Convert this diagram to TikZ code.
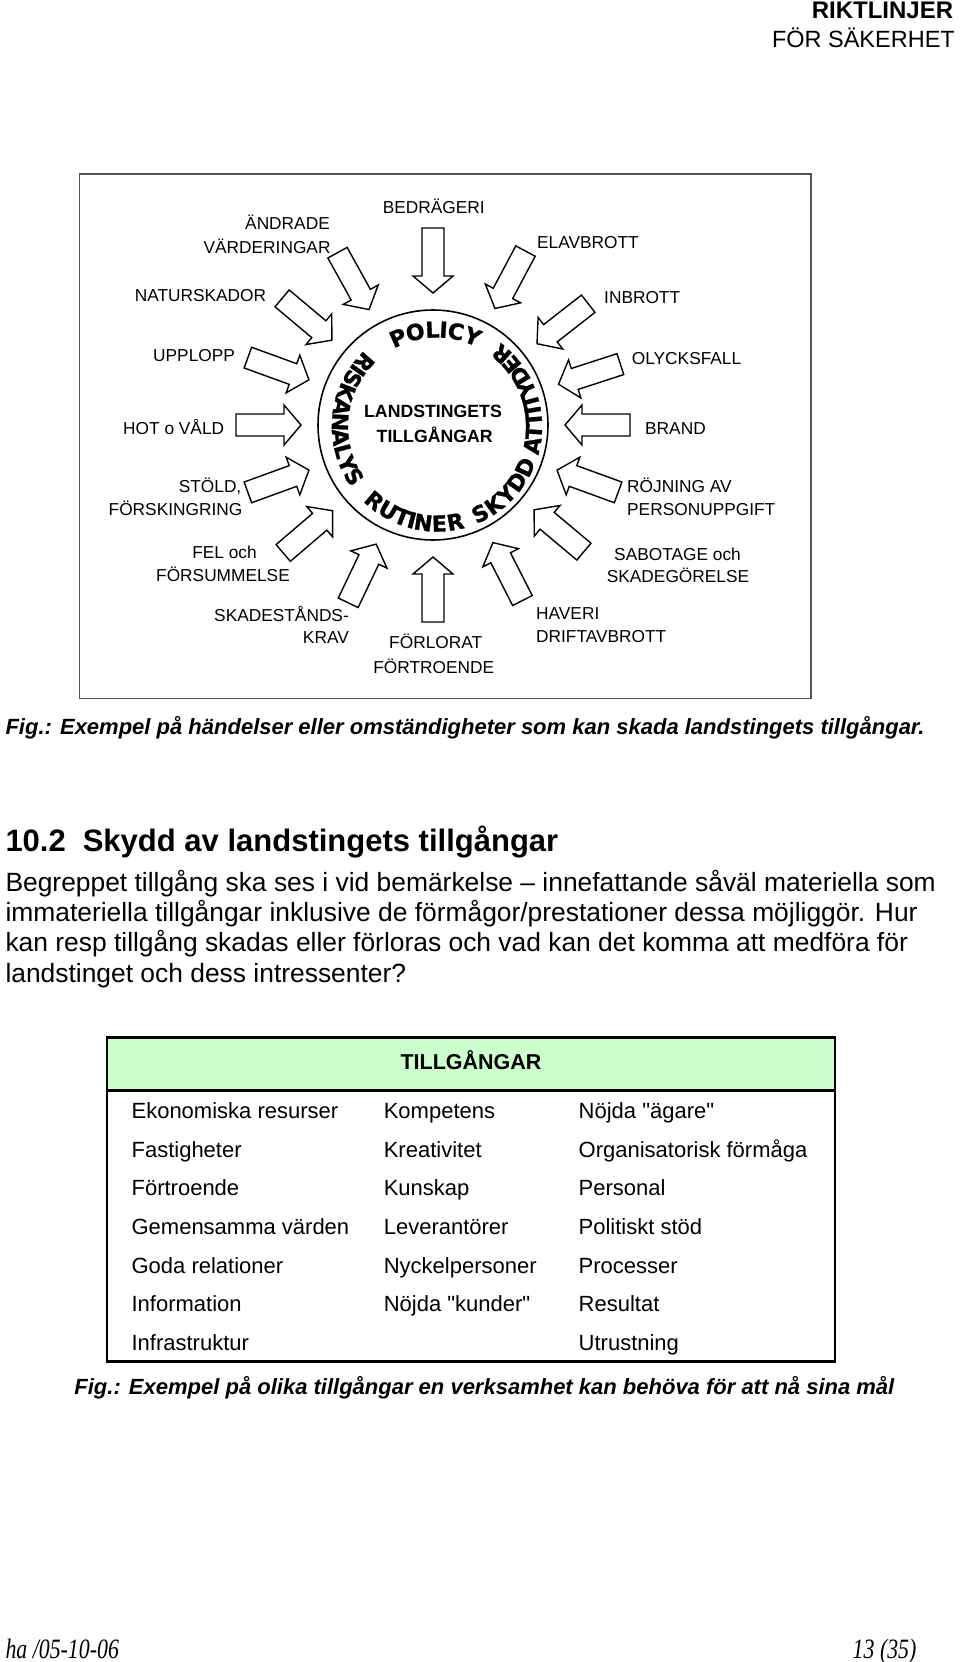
\documentclass[tikz,border=0pt]{standalone}
\usepackage{fontspec}
\usepackage{graphicx}
\setmainfont{Liberation Sans}
\newfontfamily\arcfont{DejaVu Sans}[BoldFeatures={FakeBold=1.2}]
\newfontfamily\seriffont{Liberation Serif}
\newcommand\strq{\XeTeXglyph\XeTeXcharglyph"22\relax}
\usetikzlibrary{calc}
\definecolor{hdrgreen}{HTML}{CCFFCC}
\definecolor{framegray}{HTML}{555555}
\tikzset{
  lbl/.style={font=\fontsize{17.3}{20}\selectfont, inner sep=0pt},
  ctr/.style={font=\bfseries\fontsize{17.7}{20}\selectfont, inner sep=0pt, anchor=base},
  arcletter/.style={font=\arcfont\bfseries\fontsize{22}{22}\selectfont, inner sep=0pt, anchor=center},
  blockarrow/.style={draw=black, fill=white, line width=1.4pt, line join=miter},
  bodytxt/.style={font=\fontsize{26.4}{30}\selectfont, inner sep=0pt, anchor=base west},
  captxt/.style={font=\bfseries\itshape\fontsize{22}{24}\selectfont, inner sep=0pt, anchor=base west},
  cell/.style={font=\fontsize{22}{24}\selectfont, inner sep=0pt, anchor=base west}
}
\begin{document}
\begin{tikzpicture}[x=1pt,y=1pt]
\useasboundingbox (0,0) rectangle (960,-1662);
\fill[white] (0,0) rectangle (960,-1662);

% header
\node[anchor=base east, font=\bfseries\fontsize{24}{24}\selectfont, inner sep=0pt] (h1) at (953.3,-18.3) {RIKTLINJER};
\node[anchor=base east, font=\fontsize{23.5}{24}\selectfont, inner sep=0pt] (h2) at (955,-47.3) {FÖR SÄKERHET};

% diagram frame
\draw[framegray, line width=1.5pt] (79.5,-174) rectangle (811,-698.5);

% circle
\coordinate (cc) at (433,-425);
\coordinate (tc) at (437,-426.5);
\node[circle, draw, line width=1.6pt, minimum size=230pt, inner sep=0pt] (ring) at (cc) {};

% block arrows pointing at the circle
\foreach \a in {90,62,38,18,0,-20,-40,-63,-90,-115.5,-139.5,-160,180,160,140,119} {
  \begin{scope}[shift={(cc)}, rotate=\a]
    \draw[blockarrow] (132,0) -- (149,20) -- (149,11) -- (197,11) -- (197,-11) -- (149,-11) -- (149,-20) -- cycle;
  \end{scope}
}

% centre text
\node[ctr] (land1) at (433,-417.8) {LANDSTINGETS};
\node[ctr] (land2) at (434.7,-442) {TILLGÅNGAR};

% arc words
\foreach \ch/\ang [count=\i] in {P/113.7,O/103.0,L/92.7,I/86.1,C/78.7,Y/68.4} {
  \pgfmathsetmacro\rot{\ang-90}
  \node[arcletter, rotate=\rot] (pol\i) at ($(tc)+(\ang:97)$) {\ch};
}
\foreach \ch/\ang [count=\i] in {R/138.4,I/144.66,S/150.57,K/159.27,A/168.31,N/177.35,A/186.39,L/194.74,Y/202.74,S/211.09} {
  \pgfmathsetmacro\rot{\ang+90}
  \node[arcletter, rotate=\rot] (ris\i) at ($(tc)+(\ang:97)$) {\ch};
}
\foreach \ch/\ang [count=\i] in {R/229.9,U/239.8,T/248.94,I/255.02,N/261.87,E/271.39,R/280.9} {
  \pgfmathsetmacro\rot{\ang+90}
  \node[arcletter, rotate=\rot] (rut\i) at ($(tc)+(\ang:97)$) {\ch};
}
\foreach \ch/\ang [count=\i] in {S/296.4,K/306.01,Y/315.61,D/325.22,D/335.2} {
  \pgfmathsetmacro\rot{\ang+90}
  \node[arcletter, rotate=\rot] (sky\i) at ($(tc)+(\ang:97)$) {\ch};
}
\foreach \ch/\ang [count=\i] in {A/348.7,T/356.83,T/364.28,I/369.69,T/375.11,Y/382.9,D/391.36,E/399.83,R/408.29} {
  \pgfmathsetmacro\rot{\ang+90}
  \node[arcletter, rotate=\rot] (att\i) at ($(tc)+(\ang:97)$) {\ch};
}

% labels
\node[lbl, anchor=base] (bedrageri) at (433.8,-213.5) {BEDRÄGERI};
\node[lbl, anchor=base east] (andrade1) at (330,-229.2) {ÄNDRADE};
\node[lbl, anchor=base east] (andrade2) at (330.7,-253.2) {VÄRDERINGAR};
\node[lbl, anchor=base west] (elavbrott) at (537,-248.2) {ELAVBROTT};
\node[lbl, anchor=base] (natur) at (200.5,-301.2) {NATURSKADOR};
\node[lbl, anchor=base west] (inbrott) at (604,-303.2) {INBROTT};
\node[lbl, anchor=base west] (upplopp) at (153,-361.2) {UPPLOPP};
\node[lbl, anchor=base west] (olycks) at (631.7,-364.9) {OLYCKSFALL};
\node[lbl, anchor=base west] (hot) at (123,-434.2) {HOT o VÅLD};
\node[lbl, anchor=base west] (brand) at (645,-434.2) {BRAND};
\node[lbl, anchor=base east] (stold1) at (241.5,-492.9) {STÖLD,};
\node[lbl, anchor=base east] (stold2) at (242.5,-515.2) {FÖRSKINGRING};
\node[lbl, anchor=base west] (rojn1) at (627,-492.2) {RÖJNING AV};
\node[lbl, anchor=base west] (rojn2) at (627,-515.2) {PERSONUPPGIFT};
\node[lbl, anchor=base] (fel1) at (224.5,-558.5) {FEL och};
\node[lbl, anchor=base] (fel2) at (223,-581.2) {FÖRSUMMELSE};
\node[lbl, anchor=base] (sab1) at (677.5,-560.2) {SABOTAGE och};
\node[lbl, anchor=base] (sab2) at (678,-582.9) {SKADEGÖRELSE};
\node[lbl, anchor=base east] (skad1) at (349,-621.2) {SKADESTÅNDS-};
\node[lbl, anchor=base east] (skad2) at (349,-643.2) {KRAV};
\node[lbl, anchor=base] (forl1) at (435.7,-648.5) {FÖRLORAT};
\node[lbl, anchor=base] (forl2) at (433.7,-673.5) {FÖRTROENDE};
\node[lbl, anchor=base west] (hav1) at (536,-619.2) {HAVERI};
\node[lbl, anchor=base west] (hav2) at (536,-642.2) {DRIFTAVBROTT};

% caption 1
\node[captxt] (cap1) at (5.3,-734.3) {Fig.: Exempel på händelser eller omständigheter som kan skada landstingets tillgångar.};

% heading and body
\node[anchor=base west, inner sep=0pt, font=\bfseries\fontsize{31}{34}\selectfont] (head) at (5.3,-851) {10.2\hspace{17pt}Skydd av landstingets tillgångar};
\node[bodytxt] (b1) at (5.3,-891) {Begreppet tillgång ska ses i vid bemärkelse – innefattande såväl materiella som};
\node[bodytxt] (b2) at (5.3,-921.4) {immateriella tillgångar inklusive de förmågor/prestationer dessa möjliggör. Hur};
\node[bodytxt] (b3) at (5.3,-951.8) {kan resp tillgång skadas eller förloras och vad kan det komma att medföra för};
\node[bodytxt] (b4) at (5.3,-982.2) {landstinget och dess intressenter?};

% table
\fill[hdrgreen] (107,-1037.4) rectangle (835,-1090.3);
\draw[line width=2.5pt] (107,-1037.4) rectangle (835,-1361.6);
\draw[line width=2.5pt] (107,-1090.3) -- (835,-1090.3);
\node[anchor=base, inner sep=0pt, font=\bfseries\fontsize{21.5}{24}\selectfont] (thead) at (471,-1069.6) {TILLGÅNGAR};
\foreach \t [count=\i] in {Ekonomiska resurser,Fastigheter,Förtroende,Gemensamma värden,Goda relationer,Information,Infrastruktur} {
  \node[cell] (ca\i) at (131.4,{-1118.4-(\i-1)*38.67}) {\t};
}
\foreach \t [count=\i] in {Kompetens,Kreativitet,Kunskap,Leverantörer,Nyckelpersoner,Nöjda \strq kunder\strq} {
  \node[cell] (cb\i) at (383.6,{-1118.4-(\i-1)*38.67}) {\t};
}
\foreach \t [count=\i] in {Nöjda \strq ägare\strq,Organisatorisk förmåga,Personal,Politiskt stöd,Processer,Resultat,Utrustning} {
  \node[cell] (cc\i) at (578.5,{-1118.4-(\i-1)*38.67}) {\t};
}

% caption 2
\node[captxt] (cap2) at (74.2,-1394.5) {Fig.: Exempel på olika tillgångar en verksamhet kan behöva för att nå sina mål};

% footer
\node[anchor=base west, inner sep=0pt] (f1) at (5.3,-1658) {\scalebox{0.78}[1]{\seriffont\itshape\fontsize{28}{28}\selectfont ha /05-10-06}};
\node[anchor=base east, inner sep=0pt] (f2) at (916.6,-1658) {\scalebox{0.78}[1]{\seriffont\itshape\fontsize{28}{28}\selectfont 13 (35)}};
\end{tikzpicture}
\end{document}
